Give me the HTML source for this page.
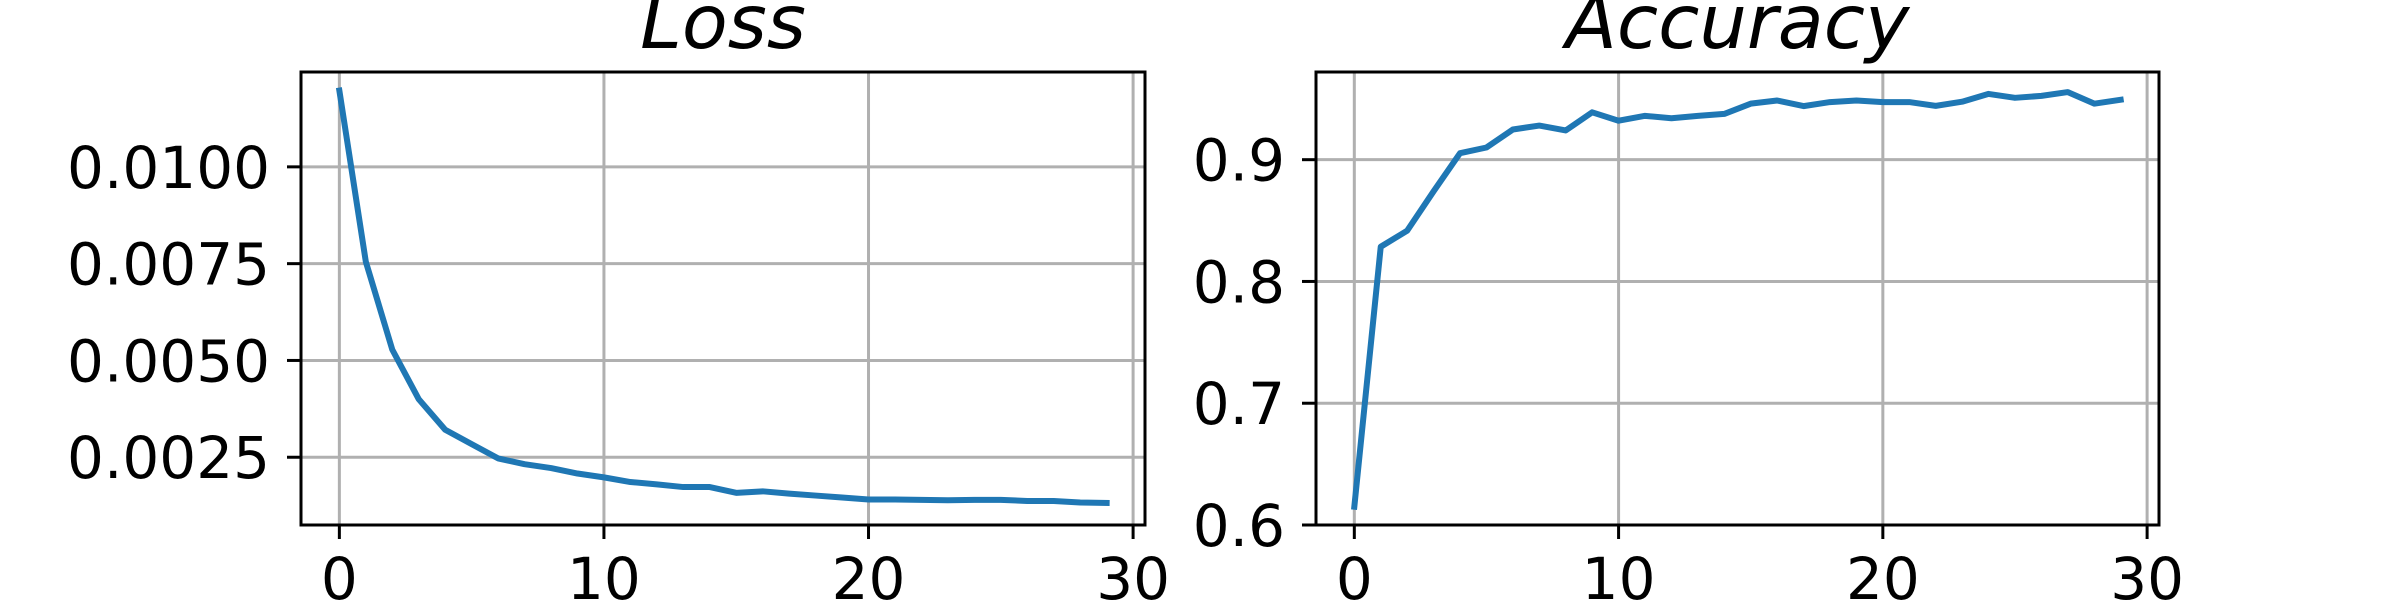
<!DOCTYPE html>
<html><head><meta charset="utf-8"><style>
html,body{margin:0;padding:0;background:#fff;}
svg{display:block;font-family:"DejaVu Sans","Liberation Sans",sans-serif;}
</style></head><body>
<svg id="fig" width="2400" height="600" viewBox="0 0 2400 600" xmlns="http://www.w3.org/2000/svg">
<rect width="2400" height="600" fill="#fff"/>
</svg>
<script>
const epochs = [0,1,2,3,4,5,6,7,8,9,10,11,12,13,14,15,16,17,18,19,20,21,22,23,24,25,26,27,28,29];
const lossValues = [0.01197,0.00755,0.00528,0.0040,0.00321,0.00284,0.00247,0.00232,0.00222,0.00208,0.00198,0.00186,0.0018,0.00173,0.00173,0.00158,0.00162,0.00156,0.00151,0.00146,0.00141,0.00141,0.0014,0.00139,0.0014,0.0014,0.00137,0.00137,0.00133,0.00132];
const accValues = [0.615,0.8285,0.8417,0.874,0.9053,0.910,0.9248,0.928,0.924,0.9389,0.932,0.936,0.934,0.936,0.9376,0.946,0.9486,0.944,0.9473,0.9486,0.9473,0.9473,0.9442,0.9476,0.954,0.9508,0.9524,0.9555,0.946,0.9492];
const xTicks = [0,10,20,30];
const lossTicks = [0.0025,0.0050,0.0075,0.0100];
const lossTickLabels = ["0.0025","0.0050","0.0075","0.0100"];
const accTicks = [0.6,0.7,0.8,0.9];
const accTickLabels = ["0.6","0.7","0.8","0.9"];

const NS = "http://www.w3.org/2000/svg";
const svg = document.getElementById('fig');
function mk(tag, attrs, parent){
  const e = document.createElementNS(NS, tag);
  for (const k in attrs) e.setAttribute(k, attrs[k]);
  (parent||svg).appendChild(e);
  return e;
}
function panel(opt){
  const {left,right,top,bottom,xmin,xmax,ymin,ymax,vals,yt,ytl,title,key} = opt;
  const g = mk('g', {});
  
  
  const sx = v => left + (v - xmin) / (xmax - xmin) * (right - left);
  const sy = v => bottom - (v - ymin) / (ymax - ymin) * (bottom - top);
  xTicks.forEach(t => {
    const l = mk('line', {x1:sx(t), x2:sx(t), y1:top, y2:bottom, stroke:'#b0b0b0', 'stroke-width':3}, g);
    
    
  });
  yt.forEach(t => {
    const l = mk('line', {x1:left, x2:right, y1:sy(t), y2:sy(t), stroke:'#b0b0b0', 'stroke-width':3}, g);
    
    
  });
  const d = vals.map((v,i) => (i?'L':'M') + sx(epochs[i]).toFixed(2) + ',' + sy(v).toFixed(2)).join(' ');
  const p = mk('path', {d:d, fill:'none', stroke:'#1f77b4', 'stroke-width':6, 'stroke-linejoin':'round', 'stroke-linecap':'square'}, g);
  
  
  const r = mk('rect', {x:left, y:top, width:right-left, height:bottom-top, fill:'none', stroke:'#000', 'stroke-width':3}, g);
  
  
  xTicks.forEach(t => {
    const tk = mk('line', {x1:sx(t), x2:sx(t), y1:bottom, y2:bottom+14, stroke:'#000', 'stroke-width':3}, g);
    
    
    const tx = mk('text', {x:sx(t), y:599, 'font-size':58, 'text-anchor':'middle', fill:'#000'}, g);
    tx.textContent = String(t);
    
    
  });
  yt.forEach((t,i) => {
    const tk = mk('line', {x1:left-14, x2:left, y1:sy(t), y2:sy(t), stroke:'#000', 'stroke-width':3}, g);
    
    
    const tx = mk('text', {x:left-31, y:sy(t)+21, 'font-size':58, 'text-anchor':'end', fill:'#000'}, g);
    tx.textContent = ytl[i];
    
    
  });
  const tt = mk('text', {x:(left+right)/2, y:48, 'font-size':75, 'font-style':'italic', 'text-anchor':'middle', fill:'#000'}, g);
  tt.textContent = title;
  
  
}
panel({left:301,right:1145,top:72,bottom:525,xmin:-1.45,xmax:30.45,ymin:0.00075,ymax:0.01245,vals:lossValues,yt:lossTicks,ytl:lossTickLabels,title:'Loss',key:'loss'});
panel({left:1316,right:2159,top:72,bottom:525,xmin:-1.45,xmax:30.45,ymin:0.6,ymax:0.972,vals:accValues,yt:accTicks,ytl:accTickLabels,title:'Accuracy',key:'accuracy'});
</script>
</body></html>
